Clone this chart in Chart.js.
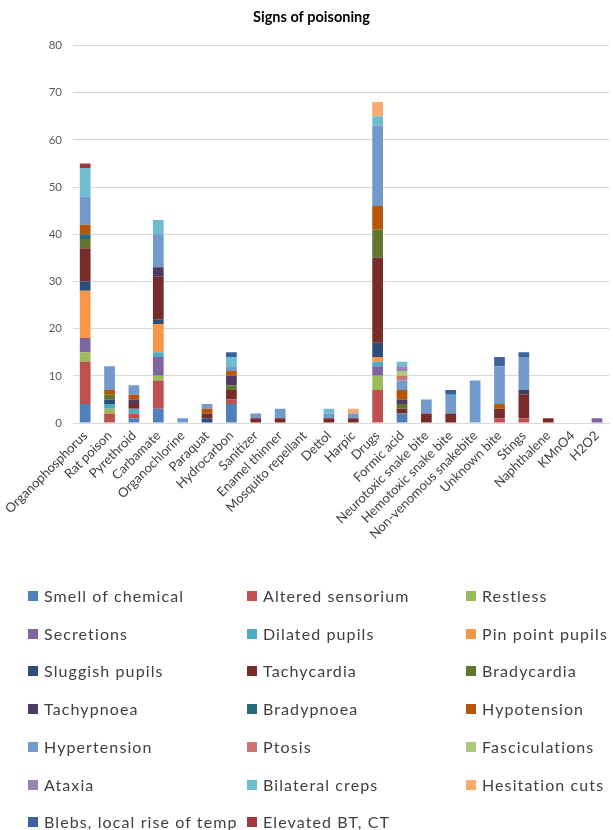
<!DOCTYPE html>
<html>
<head>
<meta charset="utf-8">
<script src="https://cdn.jsdelivr.net/npm/chart.js@4/dist/chart.umd.min.js"></script>
<style>
  html, body { margin: 0; padding: 0; background: #fff; }
  #wrap { position: relative; width: 613px; height: 830px; overflow: hidden; }
  #chartBox { position: absolute; left: 0; top: 0; width: 613px; height: 560px; }
  #legend { position: absolute; left: 0; top: 0; width: 613px; height: 830px; pointer-events: none; }
  .item { position: absolute; height: 20px; line-height: 20px; font-family: Lato, "Open Sans", sans-serif;
          font-size: 16px; letter-spacing: 1.1px; color: #404040; white-space: nowrap; }
  .item i { position: absolute; left: 0; top: 5px; width: 10px; height: 10px; }
  .item span { position: absolute; left: 16px; top: 0; }
</style>
</head>
<body>
<div id="wrap">
  <div id="chartBox"><canvas id="c"></canvas></div>
  <div id="legend"></div>
</div>
<script>
// Poison categories along the x axis
const categories = [
  "Organophosphorus", "Rat poison", "Pyrethroid", "Carbamate", "Organochlorine",
  "Paraquat", "Hydrocarbon", "Sanitizer", "Enamel thinner", "Mosquito repellant",
  "Dettol", "Harpic", "Drugs", "Formic acid", "Neurotoxic snake bite",
  "Hemotoxic snake bite", "Non-venomous snakebite", "Unknown bite", "Stings",
  "Naphthalene", "KMnO4", "H2O2"
];

// Number of patients showing each sign, per category (same order as above)
const smellOfChemical  = [4,0,1,3,0,0,4,0,0,0,0,0,0,2,0,0,0,0,0,0,0,0];
const alteredSensorium = [9,2,1,6,0,0,1,0,0,0,0,0,7,0,0,0,0,1,1,0,0,0];
const restless         = [2,1,0,1,0,0,0,0,0,0,0,0,3,0,0,0,0,0,0,0,0,0];
const secretions       = [3,0,0,4,0,0,0,0,0,0,0,0,2,0,0,0,0,0,0,0,0,1];
const dilatedPupils    = [0,1,1,1,0,0,0,0,0,0,0,0,1,0,0,0,0,0,0,0,0,0];
const pinPointPupils   = [10,0,0,6,0,0,0,0,0,0,0,0,1,0,0,0,0,0,0,0,0,0];
const sluggishPupils   = [2,1,0,1,0,1,0,0,0,0,0,0,3,0,0,0,0,0,0,0,0,0];
const tachycardia      = [7,0,1,9,0,1,2,1,1,0,1,1,18,1,2,2,0,2,5,1,0,0];
const bradycardia      = [2,1,0,0,0,0,1,0,0,0,0,0,6,1,0,0,0,0,0,0,0,0];
const tachypnoea       = [0,0,1,2,0,0,2,0,0,0,0,0,0,1,0,0,0,0,1,0,0,0];
const bradypnoea       = [1,0,0,0,0,0,0,0,0,0,0,0,0,0,0,0,0,0,0,0,0,0];
const hypotension      = [2,1,1,0,0,1,1,0,0,0,0,0,5,2,0,0,0,1,0,0,0,0];
const hypertension     = [6,5,2,7,1,1,1,1,2,0,1,1,17,2,3,4,9,8,7,0,0,0];
const ptosis           = [0,0,0,0,0,0,0,0,0,0,0,0,0,1,0,0,0,0,0,0,0,0];
const fasciculations   = [0,0,0,0,0,0,0,0,0,0,0,0,0,1,0,0,0,0,0,0,0,0];
const ataxia           = [0,0,0,0,0,0,0,0,0,0,0,0,0,1,0,0,0,0,0,0,0,0];
const bilateralCreps   = [6,0,0,3,0,0,2,0,0,0,1,0,2,1,0,0,0,0,0,0,0,0];
const hesitationCuts   = [0,0,0,0,0,0,0,0,0,0,0,1,3,0,0,0,0,0,0,0,0,0];
const blebsLocalTemp   = [0,0,0,0,0,0,1,0,0,0,0,0,0,0,0,1,0,2,1,0,0,0];
const elevatedBtCt     = [1,0,0,0,0,0,0,0,0,0,0,0,0,0,0,0,0,0,0,0,0,0];

// Y axis tick labels
const yTicks = [0, 10, 20, 30, 40, 50, 60, 70, 80];

const seriesNames = [
  "Smell of chemical", "Altered sensorium", "Restless",
  "Secretions", "Dilated pupils", "Pin point pupils",
  "Sluggish pupils", "Tachycardia", "Bradycardia",
  "Tachypnoea", "Bradypnoea", "Hypotension",
  "Hypertension", "Ptosis", "Fasciculations",
  "Ataxia", "Bilateral creps", "Hesitation cuts",
  "Blebs, local rise of temp", "Elevated BT, CT"
];
const seriesValues = [
  smellOfChemical, alteredSensorium, restless,
  secretions, dilatedPupils, pinPointPupils,
  sluggishPupils, tachycardia, bradycardia,
  tachypnoea, bradypnoea, hypotension,
  hypertension, ptosis, fasciculations,
  ataxia, bilateralCreps, hesitationCuts,
  blebsLocalTemp, elevatedBtCt
];
const seriesColors = [
  "#4F81BD", "#C0504D", "#9BBB59",
  "#8064A2", "#4BACC6", "#F79646",
  "#2C4D75", "#772C2A", "#5F7530",
  "#4D3B62", "#276A7C", "#B65708",
  "#729ACA", "#CD7371", "#AFC97A",
  "#9983B5", "#6FBDD1", "#F9AB6B",
  "#3A639B", "#A0393A"
];

const datasets = seriesNames.map((name, i) => ({
  label: name,
  data: seriesValues[i],
  backgroundColor: seriesColors[i],
  borderWidth: 0,
  barPercentage: 0.44,
  categoryPercentage: 1.0
}));

const PAD_LEFT = 10;
const PLOT_LEFT = 73;
const PLOT_BOTTOM = 423;
const CANVAS_H = 560;

new Chart(document.getElementById("c"), {
  type: "bar",
  data: { labels: categories, datasets },
  options: {
    responsive: true,
    maintainAspectRatio: false,
    animation: false,
    layout: { autoPadding: false, padding: { left: PAD_LEFT, right: 0, top: 0, bottom: 0 } },
    plugins: {
      legend: { display: false },
      tooltip: { enabled: false },
      title: {
        display: true,
        text: "Signs of poisoning",
        color: "#000000",
        font: { family: "Lato, 'Open Sans', sans-serif", size: 14.5, weight: "bold", lineHeight: 1.2 },
        padding: { top: 9, bottom: 19 }
      }
    },
    scales: {
      x: {
        stacked: true,
        grid: { display: false, drawTicks: false },
        border: { display: true, color: "#D9D9D9", width: 1 },
        ticks: {
          color: "#404040",
          font: { family: "Lato, 'Open Sans', sans-serif", size: 13 },
          minRotation: 45, maxRotation: 45,
          autoSkip: false,
          padding: 5
        },
        afterFit: (scale) => { scale.height = CANVAS_H - PLOT_BOTTOM; }
      },
      y: {
        stacked: true,
        min: 0, max: 80,
        afterBuildTicks: (scale) => { scale.ticks = yTicks.map(v => ({ value: v })); },
        grid: { color: "#D9D9D9", lineWidth: 1, drawTicks: false },
        border: { display: false },
        ticks: {
          color: "#595959",
          font: { family: "Lato, 'Open Sans', sans-serif", size: 11.5 },
          padding: 11
        },
        afterFit: (scale) => { scale.width = PLOT_LEFT - PAD_LEFT; }
      }
    }
  }
});

// Legend grid below the chart, three columns
const legend = document.getElementById("legend");
const colX = [28, 247, 466];
const rowY0 = 596, rowStep = 37.7;
seriesNames.forEach((name, i) => {
  const row = Math.floor(i / 3), col = i % 3;
  const div = document.createElement("div");
  div.className = "item";
  div.style.left = colX[col] + "px";
  div.style.top = (rowY0 + row * rowStep - 10) + "px";
  const box = document.createElement("i");
  box.style.background = seriesColors[i];
  const txt = document.createElement("span");
  txt.textContent = name;
  div.appendChild(box);
  div.appendChild(txt);
  legend.appendChild(div);
});
</script>
</body>
</html>
